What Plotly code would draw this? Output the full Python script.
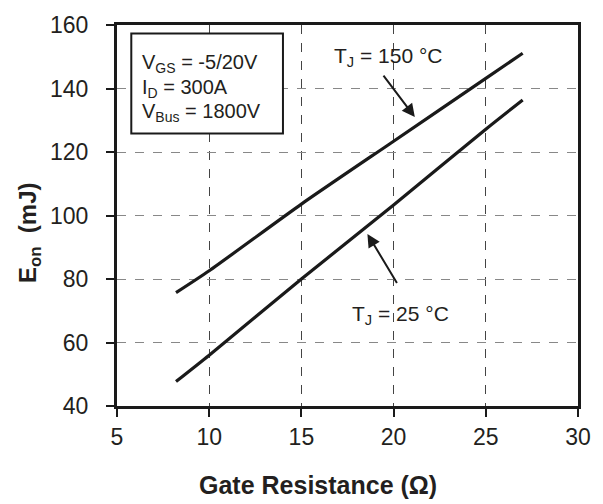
import plotly.graph_objects as go

# Data
rg = [8.2, 10, 15, 20, 25, 27]
eon_150 = [75.7, 82.6, 103.6, 123.4, 143.2, 151.1]
eon_25 = [47.7, 56.0, 80.0, 103.3, 127.2, 136.4]

x_ticks = [5, 10, 15, 20, 25, 30]
y_ticks = [40, 60, 80, 100, 120, 140, 160]

legend_lines = ["V<sub>GS</sub> = -5/20V", "I<sub>D</sub> = 300A", "V<sub>Bus</sub> = 1800V"]

FONT = "Liberation Sans, Arial, sans-serif"
TXT = "#231f20"

fig = go.Figure()
for ys in (eon_150, eon_25):
    fig.add_trace(go.Scatter(x=rg, y=ys, mode="lines",
                             line=dict(color="#1a1a1a", width=3.2, shape="spline", smoothing=0.6),
                             showlegend=False, hoverinfo="skip"))

axis_common = dict(showline=True, linecolor="#1a1a1a", linewidth=3, mirror=True,
                   ticks="outside", ticklen=8, tickwidth=2, tickcolor="#1a1a1a",
                   showgrid=True, gridwidth=1, griddash="dash", zeroline=False,
                   tickfont=dict(family=FONT, size=23, color=TXT))

fig.update_xaxes(range=[5, 30], tickvals=x_ticks, gridcolor="#444", **axis_common)
fig.update_yaxes(range=[40, 160], tickvals=y_ticks, gridcolor="#888",
                 ticklabelstandoff=13, **axis_common)

ann = []
# parameter box text
for i, t in enumerate(legend_lines):
    ann.append(dict(xref="paper", yref="paper", x=0.05, y=0.898 - i * 0.064,
                    xanchor="left", yanchor="middle", text=t, showarrow=False,
                    font=dict(family=FONT, size=20, color=TXT)))
# curve labels
ann.append(dict(xref="x", yref="y", x=19.75, y=149.8, text="T<sub>J</sub> = 150 °C",
                showarrow=False, font=dict(family=FONT, size=21, color=TXT)))
ann.append(dict(xref="x", yref="y", x=20.35, y=68.6, text="T<sub>J</sub> = 25 °C",
                showarrow=False, font=dict(family=FONT, size=21, color=TXT)))
# arrows
ann.append(dict(xref="x", yref="y", axref="x", ayref="y", x=21.15, y=131.0,
                ax=19.39, ay=144.5, text="", showarrow=True, arrowhead=2,
                arrowsize=1.3, arrowwidth=2, arrowcolor="#1a1a1a"))
ann.append(dict(xref="x", yref="y", axref="x", ayref="y", x=18.58, y=94.2,
                ax=20.23, ay=78.3, text="", showarrow=True, arrowhead=2,
                arrowsize=1.3, arrowwidth=2, arrowcolor="#1a1a1a"))
# axis titles
ann.append(dict(xref="paper", yref="paper", x=0.436, y=-0.207, xanchor="center",
                yanchor="middle", text="<b>Gate Resistance (Ω)</b>", showarrow=False,
                font=dict(family=FONT, size=25, color=TXT)))
ann.append(dict(xref="paper", yref="paper", x=-0.19, y=0.455, xanchor="center",
                yanchor="middle", text="<b>E<sub>on</sub>  (mJ)</b>", showarrow=False,
                textangle=-90, font=dict(family=FONT, size=24, color=TXT)))

fig.update_layout(
    width=603, height=504,
    margin=dict(l=117, r=17, t=17, b=98),
    paper_bgcolor="white", plot_bgcolor="white",
    annotations=ann,
    shapes=[dict(type="rect", xref="paper", yref="paper", x0=0.031, x1=0.36,
                 y0=0.715, y1=0.978, line=dict(color="#1a1a1a", width=2),
                 fillcolor="white", layer="above")],
)

fig.write_html("out.html")
